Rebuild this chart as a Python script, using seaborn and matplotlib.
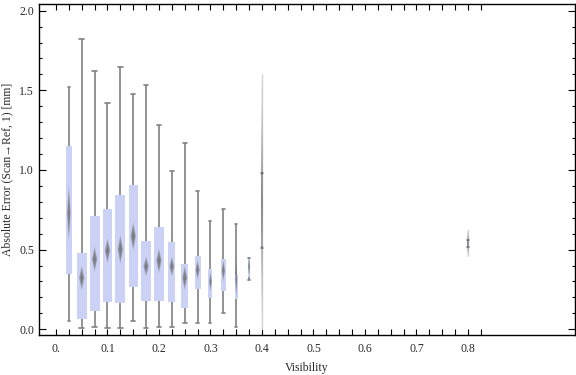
import numpy as np
import pandas as pd
import matplotlib.pyplot as plt
import seaborn as sns

# Werte
visibility = [0.025, 0.05, 0.075, 0.1, 0.125, 0.15, 0.175, 0.2, 0.225,
              0.25, 0.275, 0.3, 0.325, 0.35, 0.375, 0.4, 0.8]
err_min = [0.052, 0.006, 0.013, 0.006, 0.006, 0.052, 0.006, 0.013, 0.016,
           0.042, 0.038, 0.042, 0.100, 0.013, 0.308, 0.509, 0.515]
err_q1 = [0.346, 0.063, 0.117, 0.174, 0.167, 0.268, 0.180, 0.180, 0.170,
          0.136, 0.255, 0.199, 0.242, 0.190, 0.326, 0.520, 0.520]
err_median = [0.730, 0.320, 0.440, 0.495, 0.500, 0.585, 0.395, 0.430, 0.395,
              0.325, 0.372, 0.300, 0.368, 0.316, 0.394, 0.750, 0.540]
err_q3 = [1.153, 0.478, 0.708, 0.757, 0.845, 0.908, 0.555, 0.639, 0.545,
          0.411, 0.461, 0.379, 0.442, 0.341, 0.442, 0.970, 0.557]
err_max = [1.520, 1.820, 1.620, 1.420, 1.648, 1.474, 1.535, 1.285, 0.996,
           1.170, 0.867, 0.681, 0.755, 0.660, 0.446, 0.980, 0.560]
mean_low = [0.550, 0.245, 0.360, 0.415, 0.410, 0.494, 0.331, 0.352, 0.331,
            0.245, 0.310, 0.236, 0.300, 0.196, 0.331, 0.000, 0.457]
mean_high = [0.907, 0.400, 0.520, 0.572, 0.593, 0.673, 0.457, 0.509, 0.457,
             0.400, 0.436, 0.362, 0.436, 0.436, 0.457, 1.600, 0.625]

x_tick_labels = ["0.", "0.1", "0.2", "0.3", "0.4", "0.5", "0.6", "0.7", "0.8"]
y_tick_labels = ["0.0", "0.5", "1.0", "1.5", "2.0"]

# Boxbreite in Pixeln (Darstellung)
box_px = [5.3, 10.3, 10, 9.3, 10, 8.7, 10.7, 9.3, 7, 7.3, 6, 4, 5, 3, 2.3, 1, 1.5]

rows = []
for v, a, b, c, d, e in zip(visibility, err_min, err_q1, err_median, err_q3, err_max):
    for val in (a, b, c, d, e):
        rows.append({"visibility": v, "error": val})
df = pd.DataFrame(rows)

sns.set_theme(style="white")
plt.rcParams['font.family'] = ['Liberation Serif', 'DejaVu Serif']
plt.rcParams['font.size'] = 8.5

fig = plt.figure(figsize=(5.76, 3.75), dpi=100)
ax = fig.add_axes([0.0677, 0.1067, 0.9306, 0.8818])

px_per_unit = 0.9306 * 576 / (1.008 + 0.033)
box_color = "#CBD2F5"
line_color = "#808080"

for i, v in enumerate(visibility):
    w = box_px[i] / px_per_unit
    cap_px = min(box_px[i] * 0.5, 4.5) if box_px[i] > 2.5 else 2.5
    sns.boxplot(data=df[df["visibility"] == v], x="visibility", y="error",
                native_scale=True, orient="x", width=w, whis=(0, 100),
                color=box_color, saturation=1, showfliers=False, ax=ax,
                boxprops=dict(linewidth=0, edgecolor=box_color),
                medianprops=dict(linewidth=0),
                whiskerprops=dict(color=line_color, linewidth=1.2),
                capprops=dict(color=line_color, linewidth=1.2),
                capwidths=cap_px / px_per_unit)

    # Mittelwert-Raute mit weichem Rand
    dw = max(min(0.7 * box_px[i], 5.5), 2.0) / px_per_unit / 2
    lo, hi = mean_low[i], mean_high[i]
    mid = (lo + hi) / 2
    for s in [1.0, 0.8, 0.6, 0.4]:
        half_h = (hi - lo) / 2 * s
        ax.fill([v - dw * s, v, v + dw * s, v],
                [mid, mid + half_h, mid, mid - half_h],
                color="#6a6a6a", alpha=0.35, linewidth=0, zorder=3)
    # sehr schmale Rauten als feine Linie sichtbar halten
    if box_px[i] < 2:
        ax.plot([v, v], [lo, hi], color="#d4d4d4", linewidth=1, zorder=1)

ax.set_xlim(-0.033, 1.008)
ax.set_ylim(-0.036, 2.04)

ax.set_xticks(np.arange(0, 0.81, 0.1))
ax.set_xticklabels(x_tick_labels)
ax.set_xticks(np.arange(0, 0.826, 0.025), minor=True)
ax.set_yticks(np.arange(0, 2.01, 0.5))
ax.set_yticklabels(y_tick_labels)
ax.set_yticks(np.arange(0, 2.01, 0.1), minor=True)

ax.tick_params(axis="x", which="both", direction="in", length=4, width=0.8,
               top=True, bottom=True, colors="black", labelcolor="#2a2a2a",
               pad=6, labelsize=8.5)
ax.tick_params(axis="y", which="major", direction="in", length=5, width=0.8,
               left=True, right=True, colors="black", labelcolor="#2a2a2a",
               pad=3.5, labelsize=8.5)
ax.tick_params(axis="y", which="minor", direction="in", length=2.5, width=0.8,
               left=True, right=True, colors="black")

for sp in ax.spines.values():
    sp.set_visible(True)
    sp.set_color("black")
    sp.set_linewidth(1.0)

ax.set_xlabel("Visibility", fontsize=8.5, color="#2a2a2a", labelpad=5)
ax.set_ylabel("Absolute Error (Scan\u2192Ref, 1) [mm]", fontsize=8.5,
              color="#2a2a2a", labelpad=4)

fig.savefig("out.png", dpi=100)
